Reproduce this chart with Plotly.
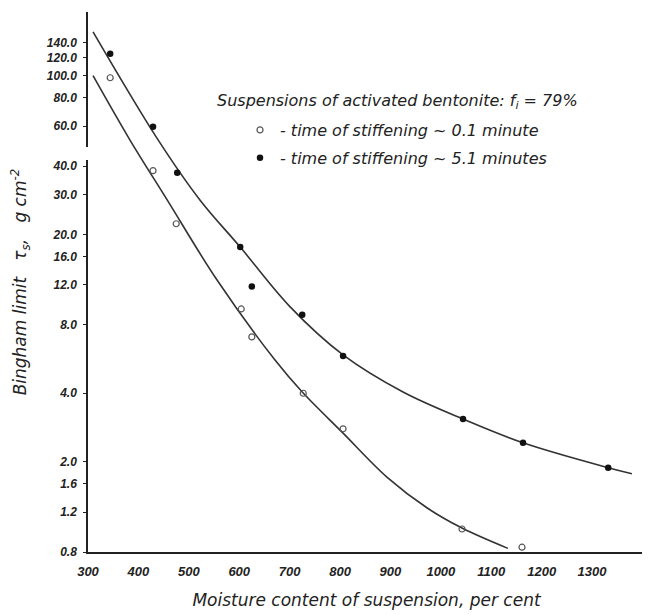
import plotly.graph_objects as go

# ---- data ----
open_x = [344, 429, 475, 604, 625, 727, 806, 1042, 1161]
open_y = [98, 38.2, 22.3, 9.4, 7.08, 4.0, 2.79, 1.01, 0.84]
filled_x = [344, 429, 477, 602, 625, 725, 806, 1044, 1163, 1332]
filled_y = [125, 59.6, 37.4, 17.6, 11.8, 8.86, 5.84, 3.08, 2.42, 1.88]

lower_curve_x = [310, 383, 457, 556, 671, 725, 806, 893, 973, 1042, 1133]
lower_curve_y = [100, 52.2, 28.4, 12.6, 5.6, 4.05, 2.67, 1.71, 1.25, 1.02, 0.83]
upper_curve_x = [310, 439, 522, 602, 701, 806, 925, 1044, 1163, 1332, 1379]
upper_curve_y = [156, 52.2, 28.4, 17.6, 9.6, 5.9, 4.05, 3.08, 2.42, 1.88, 1.77]

x_ticks = [300, 400, 500, 600, 700, 800, 900, 1000, 1100, 1200, 1300]
y_ticks = [0.8, 1.2, 1.6, 2.0, 4.0, 8.0, 12.0, 16.0, 20.0, 30.0, 40.0, 60.0, 80.0, 100.0, 120.0, 140.0]
y_tick_labels = ["0.8", "1.2", "1.6", "2.0", "4.0", "8.0", "12.0", "16.0", "20.0", "30.0",
                 "40.0", "60.0", "80.0", "100.0", "120.0", "140.0"]

FONT = "Liberation Sans"
TFONT = "DejaVu Sans"
INK = "#222222"

# page has an 8px body margin: figure is 642x607 placed at (8,8)
W, H = 642, 607
L, T, R, B = 80, 4, 5, 63
PH = H - T - B  # plot height in px


def py(page_y):
    """page pixel y -> paper coordinate"""
    return (H - B - (page_y - 8)) / PH


def px(page_x):
    return (page_x - 8 - L) / (W - L - R)


fig = go.Figure()
fig.add_trace(go.Scatter(x=lower_curve_x, y=lower_curve_y, mode="lines",
                         line=dict(color="#333333", width=1.6, shape="spline", smoothing=1.0),
                         showlegend=False, hoverinfo="skip"))
fig.add_trace(go.Scatter(x=upper_curve_x, y=upper_curve_y, mode="lines",
                         line=dict(color="#333333", width=1.6, shape="spline", smoothing=1.0),
                         showlegend=False, hoverinfo="skip"))
fig.add_trace(go.Scatter(x=open_x, y=open_y, mode="markers", legendgroup="a",
                         name="- time of stiffening ~ 0.1 minute",
                         marker=dict(symbol="circle-open", size=6, color="#555555",
                                     line=dict(width=1.2, color="#555555"))))
fig.add_trace(go.Scatter(x=filled_x, y=filled_y, mode="markers", legendgroup="b",
                         name="- time of stiffening ~ 5.1 minutes",
                         marker=dict(symbol="circle", size=6.5, color="#111111")))

fig.update_layout(
    width=W, height=H,
    margin=dict(l=L, r=R, t=T, b=B, autoexpand=False),
    paper_bgcolor="white", plot_bgcolor="white",
    font=dict(family=FONT, color=INK),
    showlegend=True,
    legend=dict(x=px(240), y=py(113), xanchor="left", yanchor="top",
                bgcolor="rgba(0,0,0,0)", itemwidth=30,
                font=dict(family=TFONT, size=16, style="italic", color=INK),
                tracegroupgap=4),
    annotations=[
        dict(text="Suspensions of activated bentonite: f<sub>i</sub> = 79%",
             x=px(215), y=py(101), xref="paper", yref="paper",
             xanchor="left", yanchor="middle", showarrow=False,
             font=dict(family=TFONT, size=16, style="italic", color=INK)),
    ],
    shapes=[
        dict(type="rect", xref="paper", yref="paper", x0=-0.006, x1=0.006,
             y0=py(160), y1=py(147),
             fillcolor="white", line=dict(width=0), layer="above"),
    ],
)

fig.update_xaxes(
    range=[300, 1405], tickvals=x_ticks, ticktext=[str(v) for v in x_ticks],
    showline=True, linecolor=INK, linewidth=1.5, showgrid=False, zeroline=False,
    automargin=False, ticklabelstandoff=7,
    ticks="", tickfont=dict(family=FONT, size=13, style="italic", weight="bold", color=INK),
    title=dict(text="Moisture content of suspension, per cent", standoff=16,
               font=dict(family=TFONT, size=17, style="italic", color=INK)),
)
fig.update_yaxes(
    type="log", range=[-0.09691, 2.2806],
    tickvals=y_ticks, ticktext=y_tick_labels,
    showline=True, linecolor=INK, linewidth=1.5, showgrid=False, zeroline=False,
    automargin=False, ticklabelstandoff=4,
    ticks="outside", ticklen=3, tickcolor=INK,
    tickfont=dict(family=FONT, size=12, style="italic", weight="bold", color=INK),
    title=dict(text="Bingham limit   τ<sub>s</sub>,   g cm<sup>-2</sup>", standoff=22,
               font=dict(family=TFONT, size=17, style="italic", color=INK)),
)

fig.write_html("out.html")
